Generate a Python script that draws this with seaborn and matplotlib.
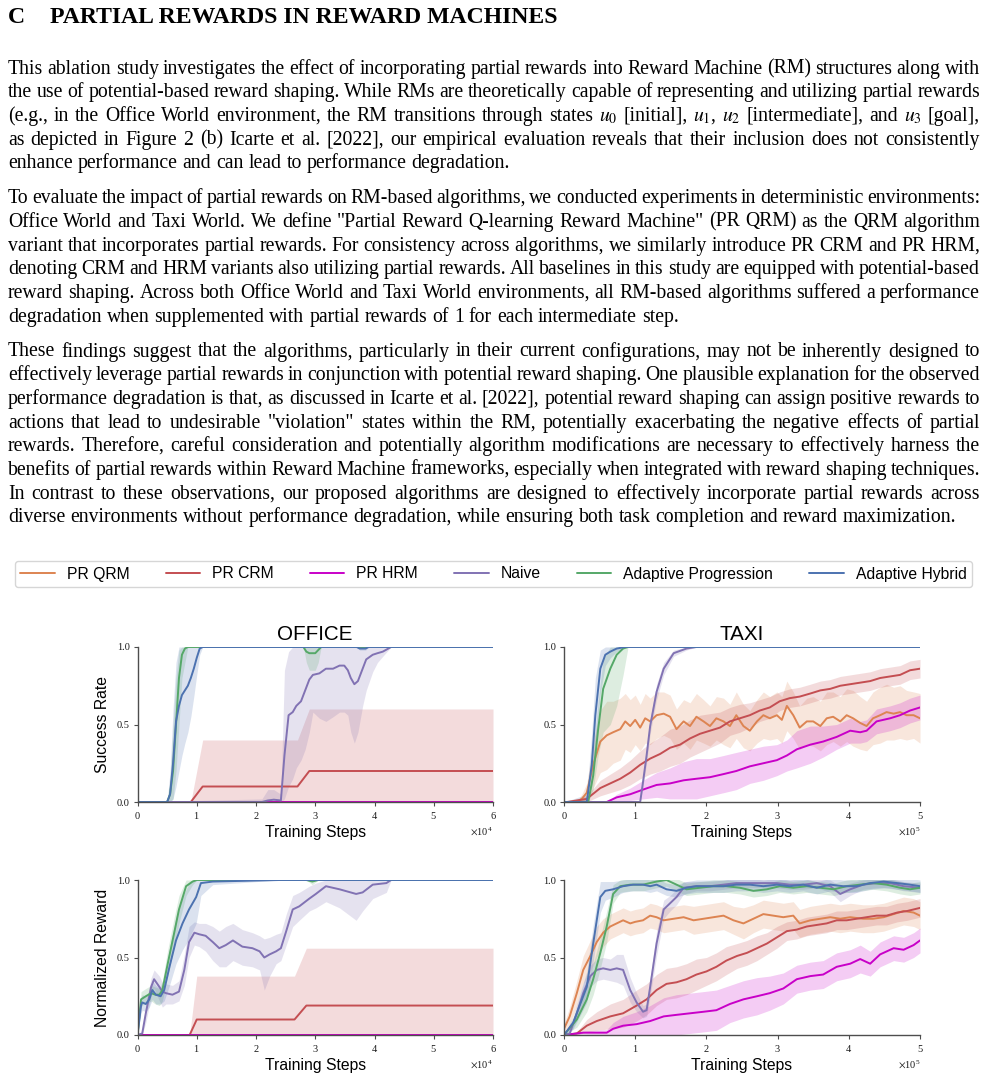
import numpy as np
import pandas as pd
import matplotlib
matplotlib.use("Agg")
import matplotlib.pyplot as plt
import seaborn as sns
from matplotlib.lines import Line2D
from matplotlib.transforms import IdentityTransform

# ---------------------------------------------------------------- data
METHODS = ["PR QRM", "PR CRM", "PR HRM", "Naive", "Adaptive Progression", "Adaptive Hybrid"]
COLORS = ["#DD8452", "#C44E52", "#C800C8", "#8172B3", "#55A868", "#4C72B0"]

# Office (x in units of 1e4 steps); tuples: (x, mean, lower, upper)
office_sr_qrm = ([0, 6], [0, 0], [0, 0], [0, 0])
office_sr_crm = ([0, 0.9, 1.1, 2.7, 2.9, 6], [0, 0, 0.1, 0.1, 0.2, 0.2],
                 [0, 0, 0, 0, 0, 0], [0, 0, 0.4, 0.4, 0.6, 0.6])
office_sr_hrm = ([0, 6], [0, 0], [0, 0], [0, 0])
office_sr_naive = (
    [0, 2.1, 2.2, 2.3, 2.42, 2.48, 2.55, 2.62, 2.68, 2.76, 2.83, 2.9, 2.96, 3.07, 3.18, 3.3, 3.41, 3.49, 3.55, 3.6, 3.66, 3.72, 3.8, 3.86, 3.97, 4.05, 4.14, 4.28, 6],
    [0, 0, 0.01, 0.015, 0.01, 0.3, 0.56, 0.58, 0.62, 0.65, 0.72, 0.79, 0.82, 0.83, 0.86, 0.86, 0.88, 0.88, 0.85, 0.8, 0.76, 0.78, 0.86, 0.92, 0.95, 0.96, 0.97, 1.0, 1.0],
    [0, 0, 0, 0, 0, 0.02, 0.1, 0.15, 0.22, 0.27, 0.34, 0.45, 0.58, 0.54, 0.52, 0.55, 0.58, 0.58, 0.56, 0.45, 0.38, 0.45, 0.62, 0.72, 0.84, 0.9, 0.94, 1.0, 1.0],
    [0, 0.02, 0.08, 0.08, 0.05, 0.85, 0.97, 1, 1, 1, 1, 1, 1, 1, 1, 1, 1, 1, 1, 1, 1, 1, 1, 1, 1, 1, 1, 1, 1])
office_sr_prog = (
    [0, 0.5, 0.55, 0.6, 0.65, 0.7, 0.75, 0.8, 0.85, 2.8, 2.85, 2.9, 3.0, 3.05, 3.1, 6],
    [0, 0, 0.05, 0.2, 0.5, 0.8, 0.95, 0.99, 1.0, 1.0, 0.97, 0.96, 0.96, 0.98, 1.0, 1.0],
    [0, 0, 0, 0.02, 0.2, 0.5, 0.8, 0.9, 1.0, 1.0, 0.9, 0.85, 0.85, 0.9, 1.0, 1.0],
    [0, 0, 0.15, 0.5, 0.8, 0.98, 1, 1, 1, 1, 1, 1, 1, 1, 1, 1])
office_sr_hyb = (
    [0, 0.5, 0.55, 0.6, 0.65, 0.7, 0.75, 0.8, 0.85, 0.9, 0.95, 1.0, 1.05, 1.1, 3.7, 3.75, 3.85, 3.9, 6],
    [0, 0, 0.05, 0.25, 0.52, 0.62, 0.69, 0.72, 0.75, 0.8, 0.86, 0.93, 0.99, 1.0, 1.0, 0.99, 0.99, 1.0, 1.0],
    [0, 0, 0, 0.02, 0.1, 0.2, 0.3, 0.38, 0.45, 0.55, 0.68, 0.82, 0.95, 1.0, 1.0, 0.98, 0.98, 1.0, 1.0],
    [0, 0, 0.2, 0.6, 0.9, 1, 1, 1, 1, 1, 1, 1, 1, 1, 1, 1, 1, 1, 1])

office_nr_qrm = ([0, 6], [0, 0], [0, 0], [0, 0])
office_nr_crm = ([0, 0.88, 1.0, 2.65, 2.85, 6], [0, 0, 0.1, 0.1, 0.19, 0.19],
                 [0, 0, 0, 0, 0, 0], [0, 0, 0.38, 0.38, 0.56, 0.56])
office_nr_hrm = ([0, 6], [0, 0], [0, 0], [0, 0])
office_nr_naive = (
    [0, 0.08, 0.14, 0.23, 0.28, 0.37, 0.42, 0.48, 0.59, 0.7, 0.79, 0.87, 0.96, 1.04, 1.15, 1.27, 1.38, 1.49, 1.61, 1.77, 1.94, 2.06, 2.14, 2.23, 2.34, 2.42, 2.51, 2.62, 2.73, 2.9, 3.01, 3.18, 3.41, 3.69, 3.8, 3.97, 4.2, 4.28, 6],
    [0, 0.01, 0.14, 0.31, 0.36, 0.31, 0.28, 0.27, 0.26, 0.28, 0.42, 0.6, 0.66, 0.65, 0.64, 0.6, 0.56, 0.58, 0.61, 0.57, 0.56, 0.54, 0.5, 0.52, 0.54, 0.56, 0.67, 0.81, 0.83, 0.88, 0.91, 0.96, 0.94, 0.91, 0.92, 0.97, 0.98, 1.0, 1.0],
    [0, 0, 0.08, 0.25, 0.3, 0.22, 0.18, 0.2, 0.2, 0.22, 0.32, 0.5, 0.58, 0.57, 0.54, 0.48, 0.44, 0.44, 0.48, 0.45, 0.44, 0.42, 0.29, 0.38, 0.46, 0.48, 0.58, 0.7, 0.74, 0.8, 0.82, 0.86, 0.82, 0.74, 0.8, 0.88, 0.92, 1.0, 1.0],
    [0, 0.02, 0.2, 0.37, 0.42, 0.38, 0.34, 0.33, 0.32, 0.35, 0.52, 0.7, 0.73, 0.72, 0.72, 0.7, 0.67, 0.7, 0.72, 0.68, 0.66, 0.64, 0.62, 0.63, 0.65, 0.66, 0.78, 0.9, 0.92, 0.96, 0.98, 1, 1, 1, 1, 1, 1, 1, 1])
office_nr_prog = (
    [0, 0.06, 0.1, 0.14, 0.23, 0.3, 0.37, 0.42, 0.51, 0.62, 0.7, 0.82, 0.93, 1.0, 2.85, 2.95, 3.05, 6],
    [0, 0.23, 0.24, 0.25, 0.27, 0.26, 0.26, 0.29, 0.46, 0.66, 0.81, 0.96, 0.99, 1.0, 1.0, 0.99, 1.0, 1.0],
    [0, 0.18, 0.2, 0.2, 0.22, 0.2, 0.19, 0.22, 0.38, 0.57, 0.72, 0.9, 0.97, 1.0, 1.0, 0.97, 1.0, 1.0],
    [0, 0.28, 0.29, 0.3, 0.32, 0.31, 0.3, 0.35, 0.55, 0.76, 0.9, 1, 1, 1, 1, 1, 1, 1])
office_nr_hyb = (
    [0, 0.06, 0.08, 0.14, 0.2, 0.25, 0.31, 0.39, 0.45, 0.54, 0.65, 0.76, 0.87, 0.99, 1.07, 1.27, 2.4, 6],
    [0, 0.19, 0.21, 0.2, 0.23, 0.29, 0.26, 0.25, 0.29, 0.44, 0.61, 0.72, 0.81, 0.89, 0.98, 0.99, 1.0, 1.0],
    [0, 0.14, 0.16, 0.15, 0.18, 0.23, 0.2, 0.2, 0.22, 0.32, 0.46, 0.55, 0.62, 0.72, 0.9, 0.97, 1.0, 1.0],
    [0, 0.24, 0.26, 0.25, 0.28, 0.35, 0.32, 0.3, 0.36, 0.56, 0.76, 0.89, 0.98, 1, 1, 1, 1, 1])

# Taxi (x in units of 1e5 steps); tuples: (x, mean, lower, upper) or (x, mean, half-spread)
taxi_sr_qrm = (
    [0, 0.18, 0.25, 0.32, 0.41, 0.51, 0.6, 0.69, 0.79, 0.86, 0.93, 1.0, 1.07, 1.14, 1.21, 1.3, 1.4, 1.49, 1.58, 1.68, 1.77, 1.86, 1.96, 2.05, 2.14, 2.24, 2.33, 2.42, 2.52, 2.61, 2.71, 2.8, 2.89, 2.99, 3.06, 3.13, 3.22, 3.31, 3.41, 3.5, 3.6, 3.69, 3.78, 3.88, 3.97, 4.06, 4.16, 4.25, 4.34, 4.44, 4.53, 4.63, 4.72, 4.81, 4.91, 5.0],
    [0, 0, 0.02, 0.06, 0.24, 0.39, 0.43, 0.45, 0.47, 0.52, 0.49, 0.53, 0.48, 0.54, 0.52, 0.56, 0.57, 0.55, 0.47, 0.52, 0.49, 0.55, 0.52, 0.49, 0.54, 0.52, 0.49, 0.56, 0.49, 0.46, 0.52, 0.56, 0.54, 0.56, 0.53, 0.62, 0.56, 0.48, 0.52, 0.52, 0.49, 0.54, 0.55, 0.52, 0.56, 0.54, 0.51, 0.49, 0.54, 0.56, 0.58, 0.57, 0.58, 0.56, 0.56, 0.54],
    [0, 0, 0.03, 0.06, 0.15, 0.2, 0.22, 0.2, 0.2, 0.18, 0.17, 0.16, 0.15, 0.16, 0.15, 0.15, 0.14, 0.14, 0.13, 0.14, 0.15, 0.15, 0.14, 0.13, 0.14, 0.15, 0.14, 0.15, 0.14, 0.13, 0.14, 0.15, 0.14, 0.15, 0.15, 0.16, 0.15, 0.14, 0.15, 0.16, 0.16, 0.17, 0.16, 0.16, 0.17, 0.18, 0.17, 0.16, 0.17, 0.18, 0.18, 0.17, 0.17, 0.16, 0.15, 0.16])
taxi_sr_crm = (
    [0, 0.04, 0.32, 0.51, 0.65, 0.79, 0.93, 1.07, 1.21, 1.35, 1.49, 1.63, 1.77, 1.91, 2.05, 2.19, 2.33, 2.47, 2.61, 2.75, 2.89, 3.03, 3.17, 3.31, 3.46, 3.6, 3.74, 3.88, 4.02, 4.16, 4.3, 4.44, 4.58, 4.72, 4.86, 5.0],
    [0, 0, 0.02, 0.09, 0.12, 0.15, 0.19, 0.24, 0.28, 0.31, 0.35, 0.37, 0.41, 0.44, 0.46, 0.48, 0.52, 0.54, 0.56, 0.59, 0.61, 0.65, 0.67, 0.68, 0.7, 0.72, 0.73, 0.75, 0.76, 0.77, 0.78, 0.8, 0.81, 0.82, 0.85, 0.86],
    [0, 0, 0.02, 0.05, 0.06, 0.07, 0.08, 0.09, 0.1, 0.11, 0.12, 0.12, 0.12, 0.12, 0.11, 0.1, 0.09, 0.09, 0.08, 0.07, 0.07, 0.06, 0.06, 0.06, 0.06, 0.06, 0.06, 0.06, 0.06, 0.06, 0.06, 0.06, 0.06, 0.06, 0.06, 0.06])
taxi_sr_hrm = (
    [0, 0.6, 0.74, 0.93, 1.11, 1.3, 1.49, 1.68, 1.86, 2.05, 2.24, 2.42, 2.61, 2.8, 2.99, 3.13, 3.27, 3.46, 3.64, 3.83, 4.02, 4.16, 4.25, 4.39, 4.58, 4.72, 4.86, 5.0],
    [0, 0, 0.03, 0.05, 0.08, 0.11, 0.12, 0.14, 0.15, 0.16, 0.18, 0.2, 0.23, 0.25, 0.27, 0.3, 0.34, 0.37, 0.39, 0.42, 0.46, 0.45, 0.46, 0.52, 0.54, 0.56, 0.59, 0.61],
    [0, 0, 0.02, 0.04, 0.06, 0.08, 0.1, 0.12, 0.13, 0.12, 0.12, 0.12, 0.11, 0.11, 0.1, 0.1, 0.12, 0.12, 0.1, 0.08, 0.08, 0.07, 0.07, 0.08, 0.08, 0.08, 0.08, 0.08])
taxi_sr_naive = (
    [0, 1.07, 1.11, 1.16, 1.21, 1.3, 1.4, 1.54, 1.72, 1.86, 5],
    [0, 0, 0.13, 0.3, 0.49, 0.71, 0.86, 0.96, 0.99, 1.0, 1.0],
    [0, 0, 0.1, 0.25, 0.44, 0.66, 0.82, 0.94, 0.98, 1.0, 1.0],
    [0, 0.01, 0.16, 0.35, 0.54, 0.76, 0.9, 0.98, 1, 1, 1])
taxi_sr_prog = (
    [0, 0.34, 0.41, 0.48, 0.55, 0.65, 0.74, 0.83, 0.9, 5],
    [0, 0, 0.17, 0.47, 0.73, 0.86, 0.95, 0.99, 1.0, 1.0],
    [0, 0, 0.08, 0.3, 0.45, 0.5, 0.62, 0.82, 1.0, 1.0],
    [0, 0.03, 0.3, 0.65, 0.92, 1, 1, 1, 1, 1])
taxi_sr_hyb = (
    [0, 0.32, 0.39, 0.44, 0.51, 0.58, 0.65, 0.74, 0.86, 5],
    [0, 0, 0.24, 0.56, 0.86, 0.95, 0.97, 0.99, 1.0, 1.0],
    [0, 0, 0.1, 0.35, 0.7, 0.88, 0.93, 0.97, 1.0, 1.0],
    [0, 0.05, 0.45, 0.8, 0.98, 1, 1, 1, 1, 1])

taxi_nr_qrm = (
    [0, 0.08, 0.18, 0.27, 0.37, 0.46, 0.55, 0.65, 0.74, 0.83, 0.93, 1.0, 1.11, 1.21, 1.3, 1.4, 1.54, 1.68, 1.82, 1.96, 2.1, 2.24, 2.38, 2.52, 2.66, 2.8, 2.94, 3.08, 3.22, 3.31, 3.46, 3.6, 3.74, 3.88, 4.02, 4.2, 4.34, 4.49, 4.63, 4.77, 4.91, 5.0],
    [0.04, 0.12, 0.27, 0.42, 0.51, 0.6, 0.66, 0.7, 0.72, 0.74, 0.72, 0.73, 0.74, 0.77, 0.76, 0.74, 0.75, 0.76, 0.74, 0.75, 0.76, 0.77, 0.74, 0.72, 0.75, 0.78, 0.77, 0.76, 0.77, 0.72, 0.74, 0.75, 0.76, 0.75, 0.76, 0.75, 0.75, 0.76, 0.78, 0.8, 0.79, 0.77],
    [0.03, 0.06, 0.08, 0.09, 0.1, 0.1, 0.09, 0.08, 0.08, 0.08, 0.08, 0.08, 0.08, 0.08, 0.08, 0.08, 0.08, 0.08, 0.09, 0.09, 0.09, 0.09, 0.09, 0.1, 0.09, 0.09, 0.09, 0.09, 0.09, 0.09, 0.09, 0.09, 0.09, 0.09, 0.09, 0.09, 0.09, 0.09, 0.09, 0.09, 0.09, 0.09])
taxi_nr_crm = (
    [0, 0.18, 0.32, 0.46, 0.65, 0.83, 1.02, 1.16, 1.3, 1.44, 1.58, 1.72, 1.86, 2.0, 2.14, 2.28, 2.43, 2.57, 2.71, 2.85, 2.99, 3.13, 3.27, 3.41, 3.55, 3.69, 3.83, 3.97, 4.11, 4.25, 4.39, 4.53, 4.68, 4.82, 5.0],
    [0, 0.01, 0.06, 0.09, 0.12, 0.14, 0.19, 0.23, 0.29, 0.33, 0.34, 0.36, 0.39, 0.41, 0.44, 0.48, 0.51, 0.53, 0.56, 0.59, 0.63, 0.67, 0.68, 0.7, 0.71, 0.72, 0.74, 0.74, 0.75, 0.76, 0.77, 0.77, 0.79, 0.8, 0.82],
    [0, 0.01, 0.04, 0.06, 0.08, 0.09, 0.1, 0.1, 0.1, 0.1, 0.1, 0.1, 0.1, 0.09, 0.09, 0.09, 0.08, 0.08, 0.08, 0.07, 0.07, 0.06, 0.06, 0.06, 0.06, 0.06, 0.06, 0.06, 0.06, 0.06, 0.06, 0.06, 0.06, 0.06, 0.06])
taxi_nr_hrm = (
    [0, 0.27, 0.6, 0.69, 0.83, 1.02, 1.21, 1.4, 1.58, 1.77, 1.96, 2.14, 2.33, 2.52, 2.71, 2.89, 3.08, 3.27, 3.46, 3.64, 3.83, 4.02, 4.16, 4.3, 4.44, 4.63, 4.77, 4.91, 5.0],
    [0, 0.015, 0.015, 0.04, 0.06, 0.07, 0.09, 0.12, 0.13, 0.14, 0.15, 0.16, 0.2, 0.23, 0.25, 0.27, 0.3, 0.36, 0.38, 0.39, 0.44, 0.46, 0.49, 0.46, 0.52, 0.56, 0.55, 0.58, 0.61],
    [0, 0.01, 0.02, 0.04, 0.06, 0.08, 0.1, 0.12, 0.13, 0.13, 0.13, 0.13, 0.12, 0.12, 0.12, 0.11, 0.1, 0.09, 0.09, 0.09, 0.09, 0.09, 0.09, 0.08, 0.08, 0.08, 0.08, 0.08, 0.08])
taxi_nr_naive = (
    [0, 0.08, 0.18, 0.27, 0.37, 0.46, 0.55, 0.65, 0.74, 0.83, 0.93, 1.02, 1.11, 1.16, 1.21, 1.3, 1.4, 1.49, 1.58, 1.68, 1.86, 2.05, 2.24, 2.42, 2.61, 2.8, 2.99, 3.17, 3.36, 3.55, 3.74, 3.88, 4.02, 4.2, 4.39, 4.58, 4.77, 5.0],
    [0, 0.01, 0.14, 0.27, 0.38, 0.42, 0.43, 0.42, 0.43, 0.42, 0.29, 0.21, 0.15, 0.16, 0.31, 0.59, 0.81, 0.85, 0.89, 0.95, 0.96, 0.96, 0.97, 0.98, 0.98, 0.98, 0.98, 0.97, 0.97, 0.98, 0.96, 0.91, 0.94, 0.97, 0.98, 0.98, 0.96, 0.95],
    [0, 0.01, 0.04, 0.06, 0.07, 0.07, 0.07, 0.07, 0.09, 0.1, 0.08, 0.06, 0.04, 0.04, 0.06, 0.08, 0.06, 0.05, 0.05, 0.04, 0.03, 0.03, 0.03, 0.03, 0.03, 0.03, 0.03, 0.03, 0.03, 0.03, 0.04, 0.05, 0.04, 0.03, 0.03, 0.03, 0.03, 0.03])
taxi_nr_prog = (
    [0, 0.18, 0.32, 0.41, 0.51, 0.6, 0.69, 0.79, 0.93, 1.11, 1.3, 1.44, 1.58, 1.72, 1.91, 2.1, 2.28, 2.47, 2.66, 2.85, 3.03, 3.22, 3.41, 3.6, 3.79, 3.97, 4.16, 4.34, 4.53, 4.72, 4.86, 5.0],
    [0, 0.1, 0.23, 0.36, 0.53, 0.7, 0.91, 0.96, 0.97, 0.97, 0.99, 1.0, 0.97, 0.94, 0.95, 0.96, 0.96, 0.95, 0.93, 0.94, 0.96, 0.95, 0.96, 0.95, 0.94, 0.96, 0.97, 0.98, 0.97, 0.95, 0.94, 0.95],
    [0, 0.05, 0.08, 0.1, 0.1, 0.1, 0.06, 0.04, 0.04, 0.04, 0.04, 0.04, 0.04, 0.04, 0.04, 0.04, 0.04, 0.04, 0.04, 0.04, 0.04, 0.04, 0.04, 0.04, 0.04, 0.04, 0.04, 0.04, 0.04, 0.04, 0.04, 0.04])
taxi_nr_hyb = (
    [0, 0.13, 0.22, 0.32, 0.41, 0.51, 0.58, 0.69, 0.83, 0.97, 1.11, 1.21, 1.3, 1.44, 1.58, 1.72, 1.86, 2.05, 2.24, 2.42, 2.61, 2.8, 2.99, 3.17, 3.36, 3.55, 3.74, 3.92, 4.11, 4.3, 4.49, 4.68, 4.86, 5.0],
    [0, 0.08, 0.19, 0.31, 0.59, 0.89, 0.93, 0.94, 0.96, 0.97, 0.97, 0.96, 0.97, 0.94, 0.93, 0.95, 0.96, 0.96, 0.96, 0.97, 0.97, 0.96, 0.97, 0.96, 0.97, 0.95, 0.97, 0.96, 0.96, 0.98, 0.99, 0.98, 0.97, 0.96],
    [0, 0.04, 0.07, 0.1, 0.12, 0.1, 0.06, 0.05, 0.04, 0.04, 0.04, 0.04, 0.04, 0.04, 0.04, 0.04, 0.04, 0.04, 0.04, 0.04, 0.04, 0.04, 0.04, 0.04, 0.04, 0.04, 0.04, 0.04, 0.04, 0.04, 0.04, 0.04, 0.04, 0.04])

PANELS = [
    dict(series=[office_sr_qrm, office_sr_crm, office_sr_hrm, office_sr_naive, office_sr_prog, office_sr_hyb],
         scale=1e4, xmax=6, title="OFFICE", ylabel="Success Rate"),
    dict(series=[taxi_sr_qrm, taxi_sr_crm, taxi_sr_hrm, taxi_sr_naive, taxi_sr_prog, taxi_sr_hyb],
         scale=1e5, xmax=5, title="TAXI", ylabel=None),
    dict(series=[office_nr_qrm, office_nr_crm, office_nr_hrm, office_nr_naive, office_nr_prog, office_nr_hyb],
         scale=1e4, xmax=6, title=None, ylabel="Normalized Reward"),
    dict(series=[taxi_nr_qrm, taxi_nr_crm, taxi_nr_hrm, taxi_nr_naive, taxi_nr_prog, taxi_nr_hyb],
         scale=1e5, xmax=5, title=None, ylabel=None),
]

TITLE_NUM = "C"
TITLE_TXT = "PARTIAL REWARDS IN REWARD MACHINES"
PARAGRAPHS = [
    ["This ablation study investigates the effect of incorporating partial rewards into Reward Machine (RM) structures along with",
     "the use of potential-based reward shaping. While RMs are theoretically capable of representing and utilizing partial rewards",
     "(e.g., in the Office World environment, the RM transitions through states $u_0$ [initial], $u_1$, $u_2$ [intermediate], and $u_3$ [goal],",
     "as depicted in Figure 2 (b) Icarte et al. [2022], our empirical evaluation reveals that their inclusion does not consistently",
     "enhance performance and can lead to performance degradation."],
    ["To evaluate the impact of partial rewards on RM-based algorithms, we conducted experiments in deterministic environments:",
     "Office World and Taxi World. We define \"Partial Reward Q-learning Reward Machine\" (PR QRM) as the QRM algorithm",
     "variant that incorporates partial rewards. For consistency across algorithms, we similarly introduce PR CRM and PR HRM,",
     "denoting CRM and HRM variants also utilizing partial rewards. All baselines in this study are equipped with potential-based",
     "reward shaping. Across both Office World and Taxi World environments, all RM-based algorithms suffered a performance",
     "degradation when supplemented with partial rewards of 1 for each intermediate step."],
    ["These findings suggest that the algorithms, particularly in their current configurations, may not be inherently designed to",
     "effectively leverage partial rewards in conjunction with potential reward shaping. One plausible explanation for the observed",
     "performance degradation is that, as discussed in Icarte et al. [2022], potential reward shaping can assign positive rewards to",
     "actions that lead to undesirable \"violation\" states within the RM, potentially exacerbating the negative effects of partial",
     "rewards. Therefore, careful consideration and potentially algorithm modifications are necessary to effectively harness the",
     "benefits of partial rewards within Reward Machine frameworks, especially when integrated with reward shaping techniques.",
     "In contrast to these observations, our proposed algorithms are designed to effectively incorporate partial rewards across",
     "diverse environments without performance degradation, while ensuring both task completion and reward maximization."],
]

# ---------------------------------------------------------------- style
sns.set_style("ticks")
plt.rcParams["font.family"] = ["Liberation Sans", "DejaVu Sans"]
plt.rcParams["mathtext.fontset"] = "stix"
plt.rcParams["text.color"] = "black"
plt.rcParams["axes.labelcolor"] = "black"

W, H = 988, 1081
fig = plt.figure(figsize=(W / 100, H / 100), dpi=100)

SERIF = "Liberation Serif"
SANS = "Liberation Sans"


def ax_rect(x0, x1, ytop, ybot):
    return [x0 / W, 1 - ybot / H, (x1 - x0) / W, (ybot - ytop) / H]


rects = [ax_rect(137.5, 493, 647, 802), ax_rect(564, 920, 647, 802),
         ax_rect(137.5, 493, 880, 1035), ax_rect(564, 920, 880, 1035)]


def bounds(s):
    y = np.asarray(s[1], float)
    if len(s) == 3:
        sp = np.asarray(s[2], float)
        return y - sp, y + sp
    return np.asarray(s[2], float), np.asarray(s[3], float)


for rect, p in zip(rects, PANELS):
    ax = fig.add_axes(rect)
    frames = []
    for m, c, s in zip(METHODS, COLORS, p["series"]):
        x = np.asarray(s[0], float) * p["scale"]
        lo, hi = bounds(s)
        ax.fill_between(x, lo, hi, color=c, alpha=0.2, lw=0)
        frames.append(pd.DataFrame({"step": x, "value": s[1], "method": m}))
    df = pd.concat(frames, ignore_index=True)
    sns.lineplot(data=df, x="step", y="value", hue="method", hue_order=METHODS,
                 palette=COLORS, errorbar=None, legend=False, ax=ax, linewidth=1.4)
    ax.set_xlim(0, p["xmax"] * p["scale"])
    ax.set_ylim(0, 1)
    ax.set_yticks([0, 0.5, 1.0])
    ax.set_xticks([i * p["scale"] for i in range(p["xmax"] + 1)])
    ax.ticklabel_format(axis="x", style="sci", scilimits=(0, 0), useMathText=True)
    sns.despine(ax=ax)
    for sp in ("left", "bottom"):
        ax.spines[sp].set_color("0.3")
        ax.spines[sp].set_linewidth(1.0)
    ax.tick_params(labelsize=7.5, length=3, width=0.8, color="0.3",
                   labelcolor="0.1", labelfontfamily=SERIF, pad=2.5)
    ot = ax.xaxis.get_offset_text()
    ot.set_fontsize(7.5)
    ot.set_family(SERIF)
    ot.set_color("0.1")
    ax.set_xlabel("Training Steps", fontsize=11.3, family=SANS, labelpad=3)
    ax.set_ylabel(p["ylabel"] or "", fontsize=11.3, family=SANS, labelpad=5)
    if p["title"]:
        ax.set_title(p["title"], fontsize=14.9, family=SANS, pad=5)

handles = [Line2D([0], [0], color=c, lw=1.4) for c in COLORS]
fig.legend(handles, METHODS, loc="center", ncol=6, mode="expand",
           bbox_to_anchor=(15 / W, 1 - 588 / H, 957 / W, 28 / H),
           prop={"family": SANS, "size": 11.3}, handlelength=2.2,
           handletextpad=0.75, borderaxespad=0, borderpad=0.35,
           frameon=True, edgecolor="0.8", fancybox=True)

# ---------------------------------------------------------------- text
renderer = fig.canvas.get_renderer()
ID = IdentityTransform()
LEFT, RIGHT = 8, 980


def ink(s, fs, **kw):
    t = fig.text(0, 0, s, transform=ID, family=SERIF, fontsize=fs, **kw)
    w = t.get_window_extent(renderer).width
    t.remove()
    return w


def advance(s, fs, **kw):
    # pen advance of s, measured between two bars
    return ink("|" + s + "|", fs, **kw) - ink("||", fs, **kw)


# title (C at x=8, rest starting at x=50, ending at x=558)
TFS0 = 17.5
tw = ink(TITLE_TXT, TFS0, weight="bold")
TFS = TFS0 * (558 - 50) / tw
fig.text(8, H - 23, TITLE_NUM, transform=ID, family=SERIF, weight="bold",
         fontsize=TFS, va="baseline", color="black")
fig.text(50, H - 23, TITLE_TXT, transform=ID, family=SERIF, weight="bold",
         fontsize=TFS, va="baseline", color="black")

# calibrate body size on the last (unjustified) line, which ends at x=955
FS0 = 14.7
cal = PARAGRAPHS[2][-1].split(" ")
nat = sum(advance(w, FS0) for w in cal) + advance(" ", FS0) * (len(cal) - 1)
FS = FS0 * (955 - LEFT) / nat
SPACE = advance(" ", FS)

starts = [68.6, 198.2, 351.5]
step = 23.7
for para, y0 in zip(PARAGRAPHS, starts):
    for i, line in enumerate(para):
        yb = H - (y0 + i * step + 5)
        words = line.split(" ")
        ws = [advance(w, FS) for w in words]
        last = i == len(para) - 1
        if last:
            gap = SPACE
        else:
            gap = (RIGHT - LEFT - sum(ws)) / (len(words) - 1)
        x = LEFT
        for w, a in zip(words, ws):
            fig.text(x, yb, w, transform=ID, family=SERIF, fontsize=FS,
                     va="baseline", color="black")
            x += a + gap

fig.savefig("out.png", dpi=100)
